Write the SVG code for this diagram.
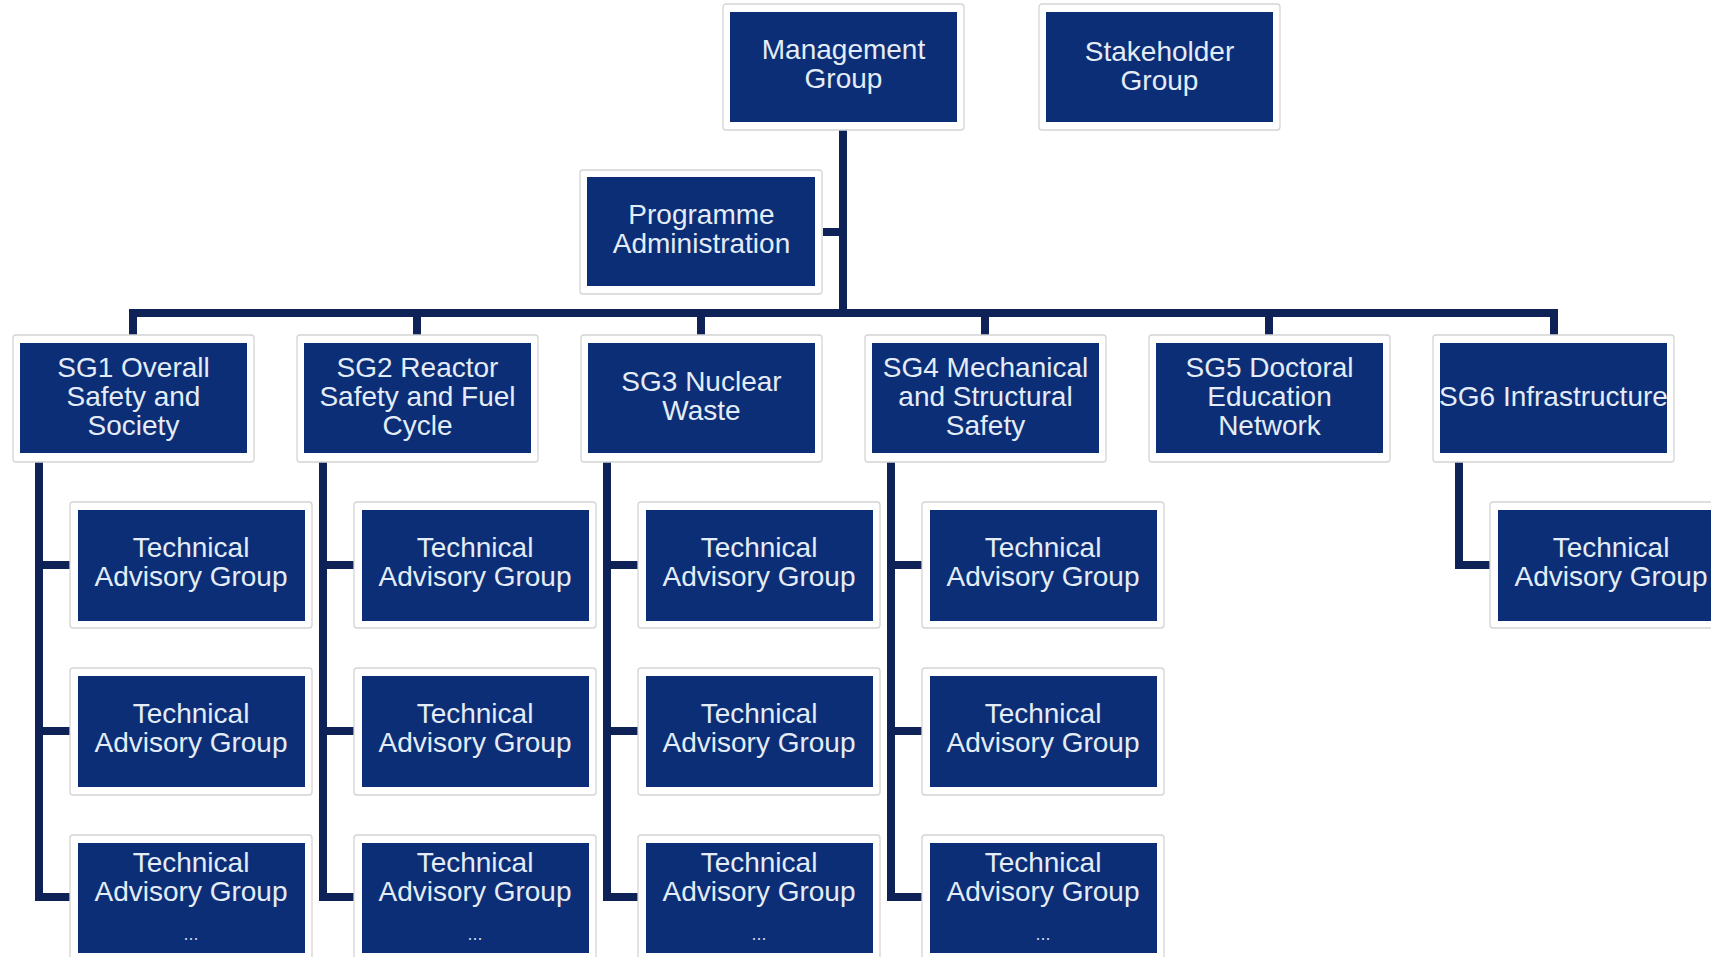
<svg xmlns="http://www.w3.org/2000/svg" width="1711" height="957" viewBox="0 0 1711 957">
<style>
.frame{fill:#ffffff;stroke:#d4d4d4;stroke-width:1.3}
.box{fill:#0b2e76}
.t{font-family:"Liberation Sans",Arial,sans-serif;font-size:28px;fill:#e4ecf7;text-anchor:middle}
.dots{font-family:"Liberation Sans",Arial,sans-serif;font-size:18px;fill:#c9d6ea;text-anchor:middle}
.conn{fill:none;stroke:#0f2257;stroke-width:8;stroke-linejoin:miter}
</style>
<rect width="1711" height="957" fill="#ffffff"/>
<g id="connectors" class="conn">
<path d="M843,130 V313"/>
<path d="M823,232 H843"/>
<path d="M133,335 V313 H1554 V335"/>
<path d="M417,313 V335 M701,313 V335 M985,313 V335 M1269,313 V335"/>
<path d="M39,462 V897 H70 M39,565 H70 M39,731 H70"/>
<path d="M323,462 V897 H354 M323,565 H354 M323,731 H354"/>
<path d="M607,462 V897 H638 M607,565 H638 M607,731 H638"/>
<path d="M891,462 V897 H922 M891,565 H922 M891,731 H922"/>
<path d="M1459,462 V565 H1490"/>
</g>
<g id="management">
<rect class="frame" x="723" y="4" width="241" height="126" rx="3"/>
<rect class="box" x="730" y="12" width="227" height="110"/>
<text class="t" x="843.5" y="59">Management</text>
<text class="t" x="843.5" y="88">Group</text>
</g>
<g id="stakeholder">
<rect class="frame" x="1039" y="4" width="241" height="126" rx="3"/>
<rect class="box" x="1046" y="12" width="227" height="110"/>
<text class="t" x="1159.5" y="61">Stakeholder</text>
<text class="t" x="1159.5" y="90">Group</text>
</g>
<g id="programme-admin">
<rect class="frame" x="580" y="170" width="242" height="124" rx="3"/>
<rect class="box" x="587" y="177" width="228" height="109"/>
<text class="t" x="701.5" y="224">Programme</text>
<text class="t" x="701.5" y="253">Administration</text>
</g>
<g id="sg1">
<rect class="frame" x="13" y="335" width="241" height="127" rx="3"/>
<rect class="box" x="20" y="343" width="227" height="110"/>
<text class="t" x="133.5" y="377">SG1 Overall</text>
<text class="t" x="133.5" y="406">Safety and</text>
<text class="t" x="133.5" y="435">Society</text>
</g>
<g id="sg2">
<rect class="frame" x="297" y="335" width="241" height="127" rx="3"/>
<rect class="box" x="304" y="343" width="227" height="110"/>
<text class="t" x="417.5" y="377">SG2 Reactor</text>
<text class="t" x="417.5" y="406">Safety and Fuel</text>
<text class="t" x="417.5" y="435">Cycle</text>
</g>
<g id="sg3">
<rect class="frame" x="581" y="335" width="241" height="127" rx="3"/>
<rect class="box" x="588" y="343" width="227" height="110"/>
<text class="t" x="701.5" y="391">SG3 Nuclear</text>
<text class="t" x="701.5" y="420">Waste</text>
</g>
<g id="sg4">
<rect class="frame" x="865" y="335" width="241" height="127" rx="3"/>
<rect class="box" x="872" y="343" width="227" height="110"/>
<text class="t" x="985.5" y="377">SG4 Mechanical</text>
<text class="t" x="985.5" y="406">and Structural</text>
<text class="t" x="985.5" y="435">Safety</text>
</g>
<g id="sg5">
<rect class="frame" x="1149" y="335" width="241" height="127" rx="3"/>
<rect class="box" x="1156" y="343" width="227" height="110"/>
<text class="t" x="1269.5" y="377">SG5 Doctoral</text>
<text class="t" x="1269.5" y="406">Education</text>
<text class="t" x="1269.5" y="435">Network</text>
</g>
<g id="sg6">
<rect class="frame" x="1433" y="335" width="241" height="127" rx="3"/>
<rect class="box" x="1440" y="343" width="227" height="110"/>
<text class="t" x="1553.5" y="406">SG6 Infrastructure</text>
</g>
<g id="sg1-tag1">
<rect class="frame" x="70" y="502" width="242" height="126" rx="3"/>
<rect class="box" x="78" y="510" width="227" height="111"/>
<text class="t" x="191" y="557">Technical</text>
<text class="t" x="191" y="586">Advisory Group</text>
</g>
<g id="sg1-tag2">
<rect class="frame" x="70" y="668" width="242" height="127" rx="3"/>
<rect class="box" x="78" y="676" width="227" height="111"/>
<text class="t" x="191" y="723">Technical</text>
<text class="t" x="191" y="752">Advisory Group</text>
</g>
<g id="sg1-tag3">
<rect class="frame" x="70" y="835" width="242" height="130" rx="3"/>
<rect class="box" x="78" y="843" width="227" height="110"/>
<text class="t" x="191" y="872">Technical</text>
<text class="t" x="191" y="901">Advisory Group</text>
<text class="dots" x="191" y="940">...</text>
</g>
<g id="sg2-tag1">
<rect class="frame" x="354" y="502" width="242" height="126" rx="3"/>
<rect class="box" x="362" y="510" width="227" height="111"/>
<text class="t" x="475" y="557">Technical</text>
<text class="t" x="475" y="586">Advisory Group</text>
</g>
<g id="sg2-tag2">
<rect class="frame" x="354" y="668" width="242" height="127" rx="3"/>
<rect class="box" x="362" y="676" width="227" height="111"/>
<text class="t" x="475" y="723">Technical</text>
<text class="t" x="475" y="752">Advisory Group</text>
</g>
<g id="sg2-tag3">
<rect class="frame" x="354" y="835" width="242" height="130" rx="3"/>
<rect class="box" x="362" y="843" width="227" height="110"/>
<text class="t" x="475" y="872">Technical</text>
<text class="t" x="475" y="901">Advisory Group</text>
<text class="dots" x="475" y="940">...</text>
</g>
<g id="sg3-tag1">
<rect class="frame" x="638" y="502" width="242" height="126" rx="3"/>
<rect class="box" x="646" y="510" width="227" height="111"/>
<text class="t" x="759" y="557">Technical</text>
<text class="t" x="759" y="586">Advisory Group</text>
</g>
<g id="sg3-tag2">
<rect class="frame" x="638" y="668" width="242" height="127" rx="3"/>
<rect class="box" x="646" y="676" width="227" height="111"/>
<text class="t" x="759" y="723">Technical</text>
<text class="t" x="759" y="752">Advisory Group</text>
</g>
<g id="sg3-tag3">
<rect class="frame" x="638" y="835" width="242" height="130" rx="3"/>
<rect class="box" x="646" y="843" width="227" height="110"/>
<text class="t" x="759" y="872">Technical</text>
<text class="t" x="759" y="901">Advisory Group</text>
<text class="dots" x="759" y="940">...</text>
</g>
<g id="sg4-tag1">
<rect class="frame" x="922" y="502" width="242" height="126" rx="3"/>
<rect class="box" x="930" y="510" width="227" height="111"/>
<text class="t" x="1043" y="557">Technical</text>
<text class="t" x="1043" y="586">Advisory Group</text>
</g>
<g id="sg4-tag2">
<rect class="frame" x="922" y="668" width="242" height="127" rx="3"/>
<rect class="box" x="930" y="676" width="227" height="111"/>
<text class="t" x="1043" y="723">Technical</text>
<text class="t" x="1043" y="752">Advisory Group</text>
</g>
<g id="sg4-tag3">
<rect class="frame" x="922" y="835" width="242" height="130" rx="3"/>
<rect class="box" x="930" y="843" width="227" height="110"/>
<text class="t" x="1043" y="872">Technical</text>
<text class="t" x="1043" y="901">Advisory Group</text>
<text class="dots" x="1043" y="940">...</text>
</g>
<g id="sg6-tag1">
<rect class="frame" x="1490" y="502" width="242" height="126" rx="3"/>
<rect class="box" x="1498" y="510" width="227" height="111"/>
<text class="t" x="1611" y="557">Technical</text>
<text class="t" x="1611" y="586">Advisory Group</text>
</g>
</svg>
